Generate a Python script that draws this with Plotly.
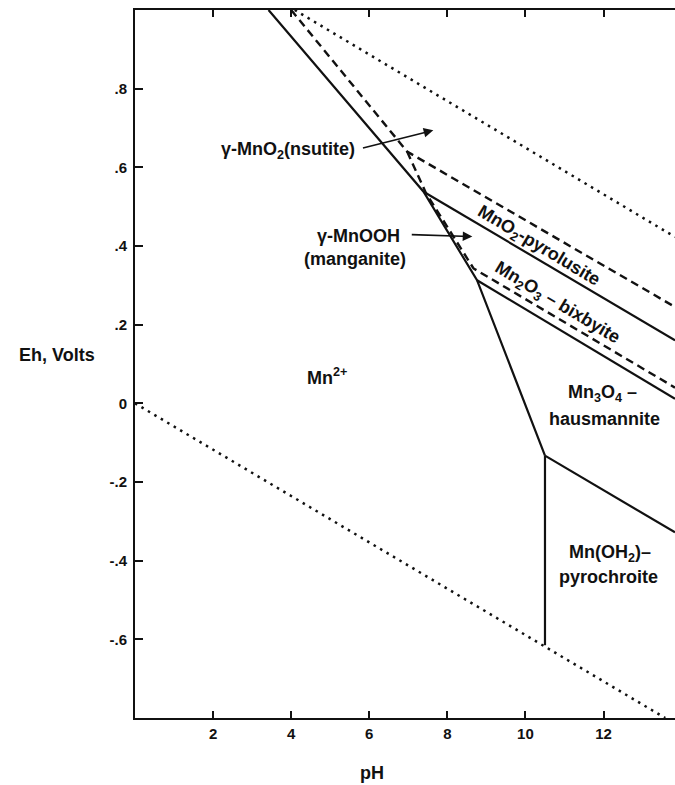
import plotly.graph_objects as go

# Eh-pH stability fields for manganese oxides (pH, Eh in volts)
mn2_boundary_ph = [3.42, 7.39, 8.76, 10.50]
mn2_boundary_eh = [1.00, 0.538, 0.313, -0.133]
pyrochroite_edge_ph = [10.50, 10.50]
pyrochroite_edge_eh = [-0.133, -0.615]
pyrolusite_ph = [7.39, 13.83]
pyrolusite_eh = [0.538, 0.160]
bixbyite_ph = [8.76, 13.83]
bixbyite_eh = [0.313, 0.0115]
hausmannite_ph = [10.50, 13.83]
hausmannite_eh = [-0.133, -0.328]

# metastable phases (dashed)
nsutite_ph = [4.00, 6.97, 13.83]
nsutite_eh = [1.00, 0.640, 0.245]
manganite_ph = [6.97, 7.45, 8.67, 13.83]
manganite_eh = [0.640, 0.535, 0.343, 0.040]

# water stability limits (dotted)
o2_water_ph = [4.09, 13.83]
o2_water_eh = [1.00, 0.423]
h2_water_ph = [0.00, 13.58]
h2_water_eh = [0.00, -0.80]

x_ticks = [2, 4, 6, 8, 10, 12]
y_ticks = [0.8, 0.6, 0.4, 0.2, 0.0, -0.2, -0.4, -0.6]
y_tick_text = [".8", ".6", ".4", ".2", "0", "-.2", "-.4", "-.6"]

FONT = "Liberation Sans"
INK = "#111111"

fig = go.Figure()

def add_line(xs, ys, dash, width=2.2):
    fig.add_trace(go.Scatter(x=xs, y=ys, mode="lines",
                             line=dict(color=INK, width=width, dash=dash),
                             hoverinfo="skip", showlegend=False))

for xs, ys in [(mn2_boundary_ph, mn2_boundary_eh),
               (pyrochroite_edge_ph, pyrochroite_edge_eh),
               (pyrolusite_ph, pyrolusite_eh),
               (bixbyite_ph, bixbyite_eh),
               (hausmannite_ph, hausmannite_eh)]:
    add_line(xs, ys, "solid")

for xs, ys in [(nsutite_ph, nsutite_eh), (manganite_ph, manganite_eh)]:
    add_line(xs, ys, "8px,5px", 2.4)

for xs, ys in [(o2_water_ph, o2_water_eh), (h2_water_ph, h2_water_eh)]:
    add_line(xs, ys, "2.5px,5px", 2.5)

labels = [
    (4.93, 0.068, "Mn<sup>2+</sup>", 0, "center"),
    (10.33, 0.399, "MnO<sub>2</sub>-pyrolusite", 31, "center"),
    (10.81, 0.254, "Mn<sub>2</sub>O<sub>3</sub> – bixbyite", 31, "center"),
    (11.97, 0.024, "Mn<sub>3</sub>O<sub>4</sub> –", 0, "center"),
    (12.02, -0.039, "hausmannite", 0, "center"),
    (12.17, -0.383, "Mn(OH<sub>2</sub>)–", 0, "center"),
    (12.12, -0.442, "pyrochroite", 0, "center"),
    (5.69, 0.643, "γ-MnO<sub>2</sub>(nsutite)", 0, "right"),
    (6.85, 0.425, "γ-MnOOH", 0, "right"),
    (7.00, 0.367, "(manganite)", 0, "right"),
]
for x, y, text, angle, anchor in labels:
    fig.add_annotation(x=x, y=y, xref="x", yref="y", text=text, showarrow=False,
                       textangle=angle, xanchor=anchor, yanchor="middle",
                       font=dict(family=FONT, size=18, color=INK, weight="bold"))

# pointer arrows for the metastable phases
for (x0, y0, x1, y1) in [(5.80, 0.648, 7.64, 0.694), (7.05, 0.429, 8.64, 0.424)]:
    fig.add_annotation(x=x1, y=y1, ax=x0, ay=y0, xref="x", yref="y",
                       axref="x", ayref="y", text="", showarrow=True,
                       arrowhead=2, arrowsize=1.2, arrowwidth=1.6, arrowcolor=INK)

fig.add_annotation(x=-0.144, y=0.513, xref="paper", yref="paper",
                   text="Eh, Volts", showarrow=False,
                   xanchor="center", yanchor="middle",
                   font=dict(family=FONT, size=18, color=INK, weight="bold"))
fig.add_annotation(x=0.439, y=-0.078, xref="paper", yref="paper",
                   text="pH", showarrow=False,
                   xanchor="center", yanchor="middle",
                   font=dict(family=FONT, size=18, color=INK, weight="bold"))

fig.update_layout(
    width=675, height=785,
    margin=dict(l=135, r=0, t=10, b=67),
    paper_bgcolor="white", plot_bgcolor="white",
    showlegend=False,
)
fig.update_xaxes(range=[0, 13.83], showgrid=False, zeroline=False,
                 showline=True, linecolor=INK, linewidth=2, mirror="ticks",
                 ticks="inside", ticklen=7, tickwidth=2, tickcolor=INK,
                 tickvals=x_ticks, ticklabelstandoff=1,
                 tickfont=dict(family=FONT, size=15, color=INK, weight="bold"))
fig.update_yaxes(range=[-0.8, 1.0], showgrid=False, zeroline=False,
                 showline=True, linecolor=INK, linewidth=2,
                 ticks="inside", ticklen=8, tickwidth=2, tickcolor=INK,
                 tickvals=y_ticks, ticktext=y_tick_text, ticklabelstandoff=3,
                 tickfont=dict(family=FONT, size=15, color=INK, weight="bold"))

fig.write_html("out.html")
